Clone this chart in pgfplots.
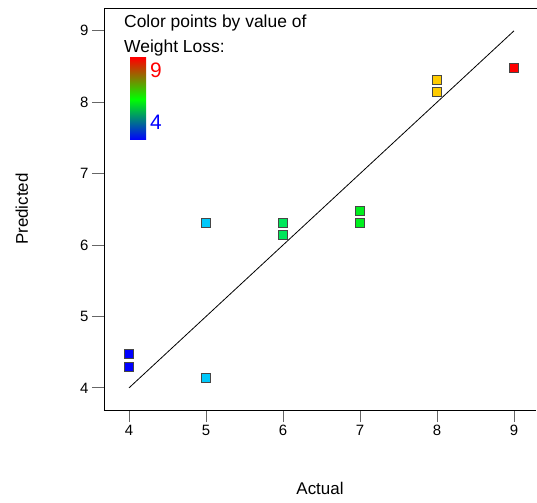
\documentclass[border=0pt]{standalone}
\usepackage{fontspec}
\setmainfont{Liberation Sans}
\usepackage{pgfplots}
\pgfplotsset{compat=1.18}
\definecolor{c4}{RGB}{0,0,255}
\definecolor{c5}{RGB}{0,200,250}
\definecolor{c6}{RGB}{0,230,90}
\definecolor{c7}{RGB}{0,240,30}
\definecolor{c8}{RGB}{255,204,0}
\definecolor{c9}{RGB}{255,0,0}
\definecolor{edge}{RGB}{70,70,70}
\begin{document}
\begin{tikzpicture}
\begin{axis}[
  scale only axis,
  width=432bp, height=402bp,
  xmin=3.675, xmax=9.286,
  ymin=3.69, ymax=9.32,
  axis lines=left,
  axis line style={-, black, line width=0.8bp},
  xtick={4,5,6,7,8,9},
  ytick={4,5,6,7,8,9},
  tick align=outside,
  major tick length=12bp,
  tick style={line width=0.8bp, black!60},
  /pgf/number format/assume math mode=true,
  tick label style={font=\fontsize{15}{18}\selectfont},
  xlabel={Actual}, ylabel={Predicted},
  label style={font=\fontsize{17}{20}\selectfont},
  xlabel style={at={(axis description cs:0.5,-0.194)}, anchor=center},
  ylabel style={at={(axis description cs:-0.19,0.5)}, anchor=center},
  clip=false,
]
\addplot[black, line width=0.8bp] coordinates {(4,4) (9,9)};
\addplot[only marks, mark=square*, mark size=4.5bp, mark options={draw=edge, fill=c4, line width=0.8bp}] coordinates {(4,4.47) (4,4.30)};
\addplot[only marks, mark=square*, mark size=4.5bp, mark options={draw=edge, fill=c5, line width=0.8bp}] coordinates {(5,6.31) (5,4.14)};
\addplot[only marks, mark=square*, mark size=4.5bp, mark options={draw=edge, fill=c6, line width=0.8bp}] coordinates {(6,6.31) (6,6.14)};
\addplot[only marks, mark=square*, mark size=4.5bp, mark options={draw=edge, fill=c7, line width=0.8bp}] coordinates {(7,6.48) (7,6.31)};
\addplot[only marks, mark=square*, mark size=4.5bp, mark options={draw=edge, fill=c8, line width=0.8bp}] coordinates {(8,8.31) (8,8.14)};
\addplot[only marks, mark=square*, mark size=4.5bp, mark options={draw=edge, fill=c9, line width=0.8bp}] coordinates {(9,8.48)};
\end{axis}
\draw[black, line width=0.8bp] (current axis.north west) -- ([xshift=1bp]current axis.north east);
\node[anchor=base west, inner sep=0pt, font=\fontsize{17.5}{20}\selectfont] at ([xshift=20bp,yshift=-20bp]current axis.north west) {Color points by value of};
\node[anchor=base west, inner sep=0pt, font=\fontsize{17.5}{20}\selectfont] at ([xshift=20bp,yshift=-45bp]current axis.north west) {Weight Loss:};
\shade[top color=red, bottom color=blue, middle color=green] ([xshift=26bp,yshift=-50bp]current axis.north west) rectangle ([xshift=42bp,yshift=-132bp]current axis.north west);
\node[anchor=base west, inner sep=0pt, text=red, font=\fontsize{21}{24}\selectfont] at ([xshift=46bp,yshift=-70bp]current axis.north west) {9};
\node[anchor=base west, inner sep=0pt, text=blue, font=\fontsize{21}{24}\selectfont] at ([xshift=46bp,yshift=-122bp]current axis.north west) {4};
\pgfresetboundingbox
\path ([xshift=-104bp,yshift=-93bp]current axis.south west) rectangle ([xshift=1bp,yshift=8bp]current axis.north east);
\end{tikzpicture}
\end{document}
